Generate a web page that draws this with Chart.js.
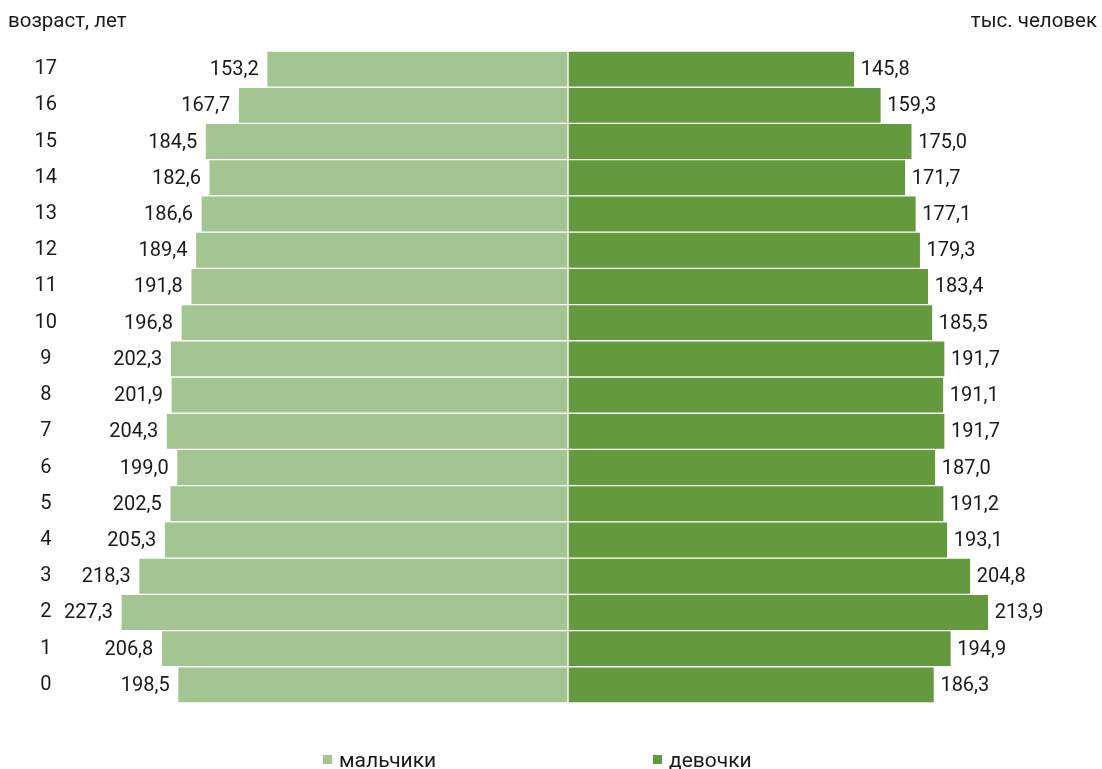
<!DOCTYPE html>
<html>
<head>
<meta charset="utf-8">
<script src="https://cdn.jsdelivr.net/npm/chart.js@4"></script>
<style>
  html, body { margin: 0; padding: 0; background: #fff; }
  #wrap { width: 1102px; height: 769px; }
</style>
</head>
<body>
<div id="wrap"><canvas id="c" width="1102" height="769"></canvas></div>
<script>
const ages = ['17','16','15','14','13','12','11','10','9','8','7','6','5','4','3','2','1','0'];
const boys = [153.2,167.7,184.5,182.6,186.6,189.4,191.8,196.8,202.3,201.9,204.3,199.0,202.5,205.3,218.3,227.3,206.8,198.5];
const girls = [145.8,159.3,175.0,171.7,177.1,179.3,183.4,185.5,191.7,191.1,191.7,187.0,191.2,193.1,204.8,213.9,194.9,186.3];
const seriesNames = ['мальчики', 'девочки'];
const axisTitleLeft = 'возраст, лет';
const axisTitleRight = 'тыс. человек';

const FONT = 'Roboto, "Noto Sans", sans-serif';
const TEXT = '#1a1a1a';
const C_BOYS = '#a3c592';
const C_GIRLS = '#639a3e';

const fmt = v => Math.abs(v).toFixed(1).replace('.', ',');

const labelPlugin = {
  id: 'extras',
  afterDatasetsDraw(chart) {
    const ctx = chart.ctx;
    ctx.save();
    ctx.font = '20px ' + FONT;
    ctx.fillStyle = TEXT;
    ctx.textBaseline = 'middle';
    chart.data.datasets.forEach((ds, di) => {
      const meta = chart.getDatasetMeta(di);
      meta.data.forEach((bar, i) => {
        const v = ds.data[i];
        if (v < 0) {
          ctx.textAlign = 'right';
          ctx.fillText(fmt(v), bar.x - 8, bar.y + 1);
        } else {
          ctx.textAlign = 'left';
          ctx.fillText(fmt(v), bar.x + 6, bar.y + 1);
        }
      });
    });
    // titles
    ctx.textBaseline = 'alphabetic';
    ctx.font = '20.5px ' + FONT;
    ctx.textAlign = 'left';
    ctx.fillText(axisTitleLeft, 8, 27);
    ctx.textAlign = 'right';
    ctx.fillText(axisTitleRight, 1097, 27);
    // legend
    ctx.font = '21px ' + FONT;
    const items = [
      {x: 323, color: C_BOYS, text: chart.data.datasets[0].label},
      {x: 653, color: C_GIRLS, text: chart.data.datasets[1].label}
    ];
    items.forEach(it => {
      ctx.fillStyle = it.color;
      ctx.fillRect(it.x, 755, 9, 9);
      ctx.fillStyle = TEXT;
      ctx.textAlign = 'left';
      ctx.textBaseline = 'alphabetic';
      ctx.fillText(it.text, it.x + 16, 767);
    });
    ctx.restore();
  }
};

new Chart(document.getElementById('c'), {
  type: 'bar',
  data: {
    labels: ages,
    datasets: [
      { label: seriesNames[0], data: boys.map(v => -v), backgroundColor: C_BOYS, borderColor: '#ffffff', borderWidth: 1, borderSkipped: false, barPercentage: 1, categoryPercentage: 1 },
      { label: seriesNames[1], data: girls, backgroundColor: C_GIRLS, borderColor: '#ffffff', borderWidth: 1, borderSkipped: false, barPercentage: 1, categoryPercentage: 1 }
    ]
  },
  options: {
    indexAxis: 'y',
    responsive: false,
    animation: false,
    devicePixelRatio: 1,
    layout: { padding: { left: 33, right: 62, top: 47, bottom: 66 } },
    plugins: { legend: { display: false }, tooltip: { enabled: false } },
    scales: {
      x: { stacked: true, min: -240, max: 240, display: false },
      y: {
        stacked: true,
        afterFit(scale) { scale.width = 63; },
        grid: { display: false, drawTicks: false },
        border: { display: false },
        ticks: { color: TEXT, font: { family: FONT, size: 20 }, crossAlign: 'center', padding: 39 }
      }
    }
  },
  plugins: [labelPlugin]
});
</script>
</body>
</html>
